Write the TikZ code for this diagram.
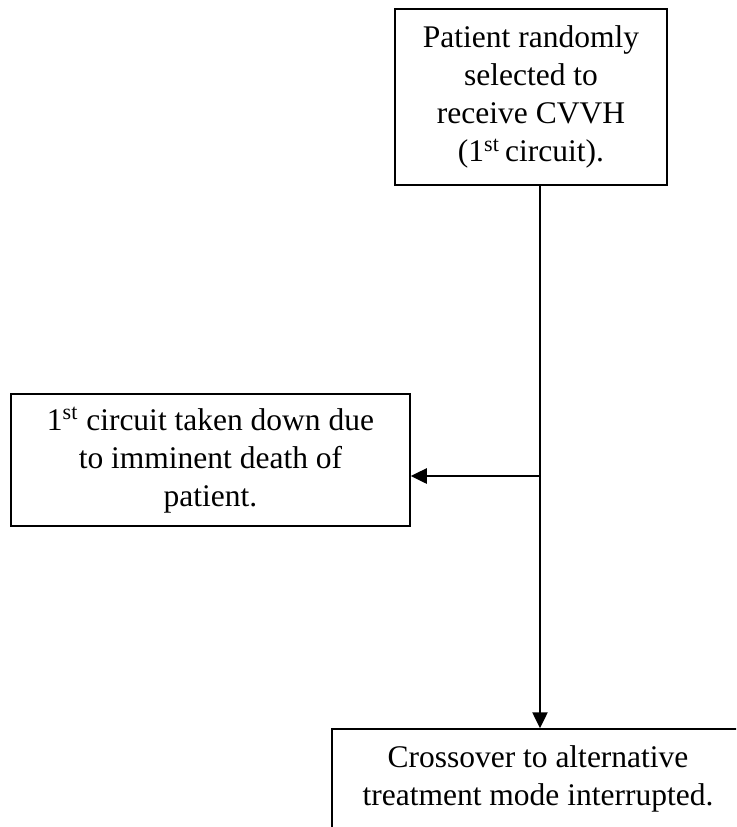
\documentclass[tikz,border=0pt]{standalone}
\usepackage{fontspec}
\setmainfont{Liberation Serif}
\usetikzlibrary{arrows.meta}

\begin{document}
\begin{tikzpicture}[x=0.5pt,y=-0.5pt,
            box/.style={draw,line width=0.75pt,align=center,inner sep=0pt,
                font=\fontsize{15.75}{19}\selectfont},
            flow/.style={line width=1.25pt,-{Triangle[width=7.5pt,length=8pt]}}]
            \useasboundingbox (0,0) rectangle (736,827);
            \clip (0,0) rectangle (736,827);
            \node[box,minimum width=136pt,minimum height=88pt] (start) at (531,97)
                {Patient randomly\\selected to\\receive CVVH\\(1\textsuperscript{st}\,circuit).};
            \node[box,minimum width=199.5pt,minimum height=66pt] (down) at (210.5,460)
                {1\textsuperscript{st} circuit taken down due\\to imminent death of\\patient.};
            \node[box,minimum width=206pt,minimum height=50pt] (cross) at (538,779)
                {Crossover to alternative\\treatment mode interrupted.};
            \coordinate (split) at (540,476);
            \draw[flow] (start.south -| split) -- (cross.north -| split);
            \draw[flow] (split) -- (down.east |- split);
        \end{tikzpicture}
\end{document}
